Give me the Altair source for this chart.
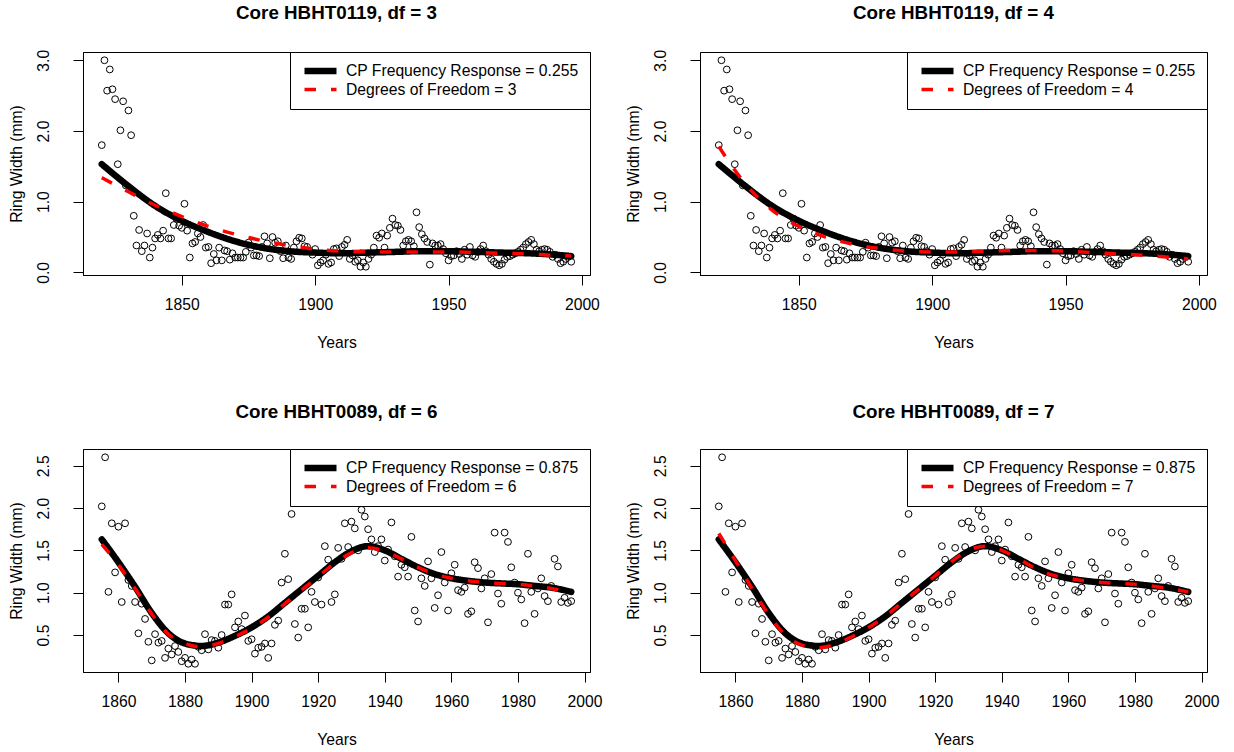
import altair as alt
import pandas as pd

FONT = "Liberation Sans"

# ---------------- data ----------------
top_years = list(range(1820, 1997))
top_rw = [
    1.80, 3.00, 2.57, 2.87, 2.59, 2.45, 1.53, 2.01, 2.42, 1.23,
    2.29, 1.94, 0.80, 0.38, 0.60, 0.30, 0.38, 0.55, 0.21, 0.35,
    0.48, 0.53, 0.48, 0.59, 1.12, 0.48, 0.48, 0.67, 0.76, 0.66,
    0.63, 0.97, 0.59, 0.21, 0.41, 0.43, 0.55, 0.50, 0.67, 0.35,
    0.36, 0.13, 0.26, 0.17, 0.35, 0.17, 0.31, 0.30, 0.18, 0.27,
    0.21, 0.21, 0.21, 0.21, 0.29, 0.42, 0.35, 0.24, 0.24, 0.23,
    0.36, 0.51, 0.41, 0.20, 0.50, 0.42, 0.44, 0.30, 0.20, 0.38,
    0.21, 0.19, 0.35, 0.44, 0.49, 0.48, 0.37, 0.36, 0.30, 0.25,
    0.33, 0.10, 0.14, 0.17, 0.25, 0.12, 0.14, 0.33, 0.34, 0.23,
    0.36, 0.39, 0.46, 0.19, 0.24, 0.15, 0.17, 0.08, 0.14, 0.08,
    0.19, 0.25, 0.35, 0.52, 0.49, 0.55, 0.35, 0.52, 0.63, 0.76,
    0.67, 0.66, 0.60, 0.38, 0.44, 0.46, 0.44, 0.37, 0.85, 0.64,
    0.54, 0.48, 0.43, 0.11, 0.41, 0.38, 0.38, 0.40, 0.33, 0.27,
    0.17, 0.23, 0.24, 0.30, 0.26, 0.19, 0.32, 0.25, 0.36, 0.24,
    0.22, 0.29, 0.33, 0.38, 0.30, 0.25, 0.19, 0.15, 0.12, 0.10,
    0.12, 0.18, 0.22, 0.23, 0.25, 0.27, 0.29, 0.32, 0.35, 0.40,
    0.43, 0.46, 0.40, 0.32, 0.30, 0.32, 0.33, 0.32, 0.29, 0.22,
    0.25, 0.19, 0.13, 0.15, 0.19, 0.22, 0.15,
]

bot_years = list(range(1855, 1997))
bot_rw = [
    2.02, 2.60, 1.01, 1.82, 1.24,
    1.78, 0.89, 1.82, 1.15, 1.08, 0.89, 0.52, 0.87, 0.69, 0.42,
    0.20, 0.51, 0.41, 0.43, 0.23, 0.34, 0.27, 0.37, 0.30, 0.19,
    0.23, 0.16, 0.21, 0.16, 0.36, 0.32, 0.51, 0.33, 0.44, 0.43,
    0.35, 0.50, 0.86, 0.86, 0.98, 0.59, 0.66, 0.57, 0.73, 0.43,
    0.45, 0.28, 0.35, 0.36, 0.40, 0.23, 0.40, 0.62, 0.67, 1.12,
    1.46, 1.16, 1.93, 0.63, 0.47, 0.81, 0.81, 0.59, 1.01, 0.89,
    1.18, 0.86, 1.55, 1.39, 0.89, 0.98, 1.53, 1.40, 1.82, 1.54,
    1.84, 1.76, 1.50, 1.98, 1.90, 1.75, 1.63, 1.48, 1.55, 1.63,
    1.38, 1.51, 1.83, 1.43, 1.19, 1.33, 1.30, 1.19, 1.66, 0.79,
    0.66, 1.17, 1.08, 1.37, 1.17, 0.82, 0.97, 1.48, 1.12, 0.79,
    1.23, 1.33, 1.03, 1.01, 1.06, 0.75, 0.78, 1.36, 1.29, 1.05,
    1.17, 0.65, 1.22, 1.71, 0.99, 0.87, 1.71, 1.60, 1.30, 1.12,
    1.00, 0.92, 0.64, 1.46, 1.01, 0.75, 1.05, 1.17, 0.96, 0.90,
    1.08, 1.40, 1.31, 0.89, 0.94, 0.88, 0.90,
]

# smoothing curves
top_curve_years = [1820, 1830, 1840, 1850, 1860, 1870, 1880, 1890, 1900, 1910,
                   1920, 1930, 1940, 1950, 1960, 1970, 1980, 1990, 1996]
top_cp = [1.53, 1.22, 0.94, 0.73, 0.57, 0.44, 0.35, 0.30, 0.28, 0.27,
          0.28, 0.29, 0.30, 0.30, 0.29, 0.28, 0.27, 0.25, 0.23]
top_df3 = [1.34, 1.14, 0.95, 0.79, 0.65, 0.54, 0.45, 0.38, 0.33, 0.30,
           0.29, 0.29, 0.29, 0.29, 0.28, 0.27, 0.26, 0.24, 0.23]
top_df4 = [1.78, 1.25, 0.88, 0.65, 0.50, 0.40, 0.34, 0.30, 0.29, 0.29,
           0.30, 0.31, 0.31, 0.30, 0.28, 0.26, 0.24, 0.21, 0.19]

bot_curve_years = [1855, 1860, 1865, 1870, 1875, 1880, 1885, 1890, 1895, 1900,
                   1905, 1910, 1915, 1920, 1925, 1930, 1935, 1940, 1945, 1950,
                   1955, 1960, 1965, 1970, 1975, 1980, 1985, 1990, 1996]
bot_cp = [1.63, 1.36, 1.07, 0.76, 0.52, 0.40, 0.37, 0.41, 0.49, 0.59,
          0.72, 0.88, 1.04, 1.20, 1.36, 1.49, 1.55, 1.50, 1.40, 1.30,
          1.22, 1.17, 1.14, 1.12, 1.11, 1.10, 1.08, 1.06, 1.01]
bot_df6 = [1.57, 1.33, 1.05, 0.75, 0.51, 0.40, 0.36, 0.40, 0.48, 0.58,
           0.71, 0.87, 1.03, 1.19, 1.35, 1.47, 1.53, 1.49, 1.40, 1.30,
           1.22, 1.17, 1.14, 1.12, 1.11, 1.10, 1.08, 1.05, 1.00]
bot_df7 = [1.70, 1.38, 1.05, 0.74, 0.50, 0.38, 0.35, 0.39, 0.48, 0.59,
           0.72, 0.88, 1.04, 1.20, 1.37, 1.50, 1.55, 1.50, 1.40, 1.29,
           1.21, 1.17, 1.14, 1.12, 1.11, 1.10, 1.08, 1.05, 1.01]

top_xdomain = [1812.96, 2003.04]
top_ydomain = [-0.037, 3.117]
bot_xdomain = [1849.36, 2001.64]
bot_ydomain = [0.063, 2.698]
top_xticks = [1850, 1900, 1950, 2000]
top_yticks = [0.0, 0.5, 1.0, 1.5, 2.0, 2.5, 3.0]
bot_xticks = [1860, 1880, 1900, 1920, 1940, 1960, 1980, 2000]
bot_yticks = [0.5, 1.0, 1.5, 2.0, 2.5]

W, H = 507, 223


def panel(title, years, rw, cyears, cp_vals, df_vals, cp_label, df_label,
          xdom, ydom, xticks, yticks):
    pts = pd.DataFrame({"Year": years, "RW": rw})
    cp = pd.DataFrame({"Year": cyears, "RW": cp_vals, "series": cp_label})
    dfc = pd.DataFrame({"Year": cyears, "RW": df_vals, "series": df_label})
    dom = [cp_label, df_label]

    x = alt.X("Year:Q",
              scale=alt.Scale(domain=xdom, nice=False, zero=False),
              axis=alt.Axis(values=xticks, format="d", title="Years",
                            labelBaseline="alphabetic", labelPadding=24,
                            labelFlush=False, labelOverlap=False,
                            titleBaseline="alphabetic", titleX=W / 2,
                            titleY=72, titleAlign="center"))
    y = alt.Y("RW:Q",
              scale=alt.Scale(domain=ydom, nice=False, zero=False),
              axis=alt.Axis(values=yticks, format=".1f",
                            title="Ring Width (mm)",
                            labelAngle=270, labelAlign="center",
                            labelBaseline="alphabetic", labelPadding=25,
                            labelFlush=False, labelOverlap=False,
                            titleAngle=270, titleAlign="center",
                            titleBaseline="alphabetic",
                            titleX=-61.5, titleY=H / 2))

    leg = alt.Legend(title=None, orient="top-right")
    color = alt.Color("series:N", scale=alt.Scale(domain=dom, range=["black", "red"]), legend=leg)
    dash = alt.StrokeDash("series:N", scale=alt.Scale(domain=dom, range=[[1, 0], [11.5, 15]]), legend=leg)
    sw = alt.StrokeWidth("series:N", scale=alt.Scale(domain=dom, range=[6.5, 3.5]), legend=leg)

    points = alt.Chart(pts).mark_point(
        shape="circle", filled=False, color="black", size=46,
        strokeWidth=1, opacity=1
    ).encode(x=x, y=y)

    line_cp = alt.Chart(cp).mark_line(interpolate="monotone", strokeCap="round").encode(
        x="Year:Q", y="RW:Q", color=color, strokeDash=dash, strokeWidth=sw)
    line_df = alt.Chart(dfc).mark_line(interpolate="monotone", strokeCap="butt").encode(
        x="Year:Q", y="RW:Q", color=color, strokeDash=dash, strokeWidth=sw)

    return alt.layer(points, line_cp, line_df).properties(
        width=W, height=H,
        title=alt.TitleParams(title, font=FONT, fontSize=18.8, fontWeight="bold",
                              anchor="middle", baseline="alphabetic", offset=12,
                              color="black"))


tl = panel("Core HBHT0119, df = 3", top_years, top_rw, top_curve_years, top_cp, top_df3,
           "CP Frequency Response = 0.255", "Degrees of Freedom = 3",
           top_xdomain, top_ydomain, top_xticks, top_yticks)
tr = panel("Core HBHT0119, df = 4", top_years, top_rw, top_curve_years, top_cp, top_df4,
           "CP Frequency Response = 0.255", "Degrees of Freedom = 4",
           top_xdomain, top_ydomain, top_xticks, top_yticks)
bl = panel("Core HBHT0089, df = 6", bot_years, bot_rw, bot_curve_years, bot_cp, bot_df6,
           "CP Frequency Response = 0.875", "Degrees of Freedom = 6",
           bot_xdomain, bot_ydomain, bot_xticks, bot_yticks)
br = panel("Core HBHT0089, df = 7", bot_years, bot_rw, bot_curve_years, bot_cp, bot_df7,
           "CP Frequency Response = 0.875", "Degrees of Freedom = 7",
           bot_xdomain, bot_ydomain, bot_xticks, bot_yticks)

chart = alt.concat(
    tl, tr, bl, br, columns=2,
    spacing={"row": 174, "column": 110}, bounds="flush"
).resolve_scale(
    color="independent", strokeDash="independent", strokeWidth="independent",
    x="independent", y="independent"
).properties(
    padding={"left": 8, "top": 3, "right": 5, "bottom": 5},
    background="white",
).configure_view(
    stroke="black", strokeWidth=1
).configure_axis(
    grid=False, domainColor="black", tickColor="black", labelColor="black",
    titleColor="black", labelFont=FONT, titleFont=FONT, labelFontSize=15.7,
    titleFontSize=15.7, titleFontWeight="normal", tickSize=10,
    domainWidth=1, tickWidth=1
).configure_legend(
    offset=0, strokeColor="black", fillColor="white", padding=11,
    cornerRadius=0, symbolType="stroke", symbolSize=1024, clipHeight=16,
    labelFont=FONT, labelFontSize=15.7, labelColor="black",
    labelOffset=6, rowPadding=2.6, labelLimit=500
)

chart.save("out.html", embed_options={"renderer": "svg", "actions": False})
